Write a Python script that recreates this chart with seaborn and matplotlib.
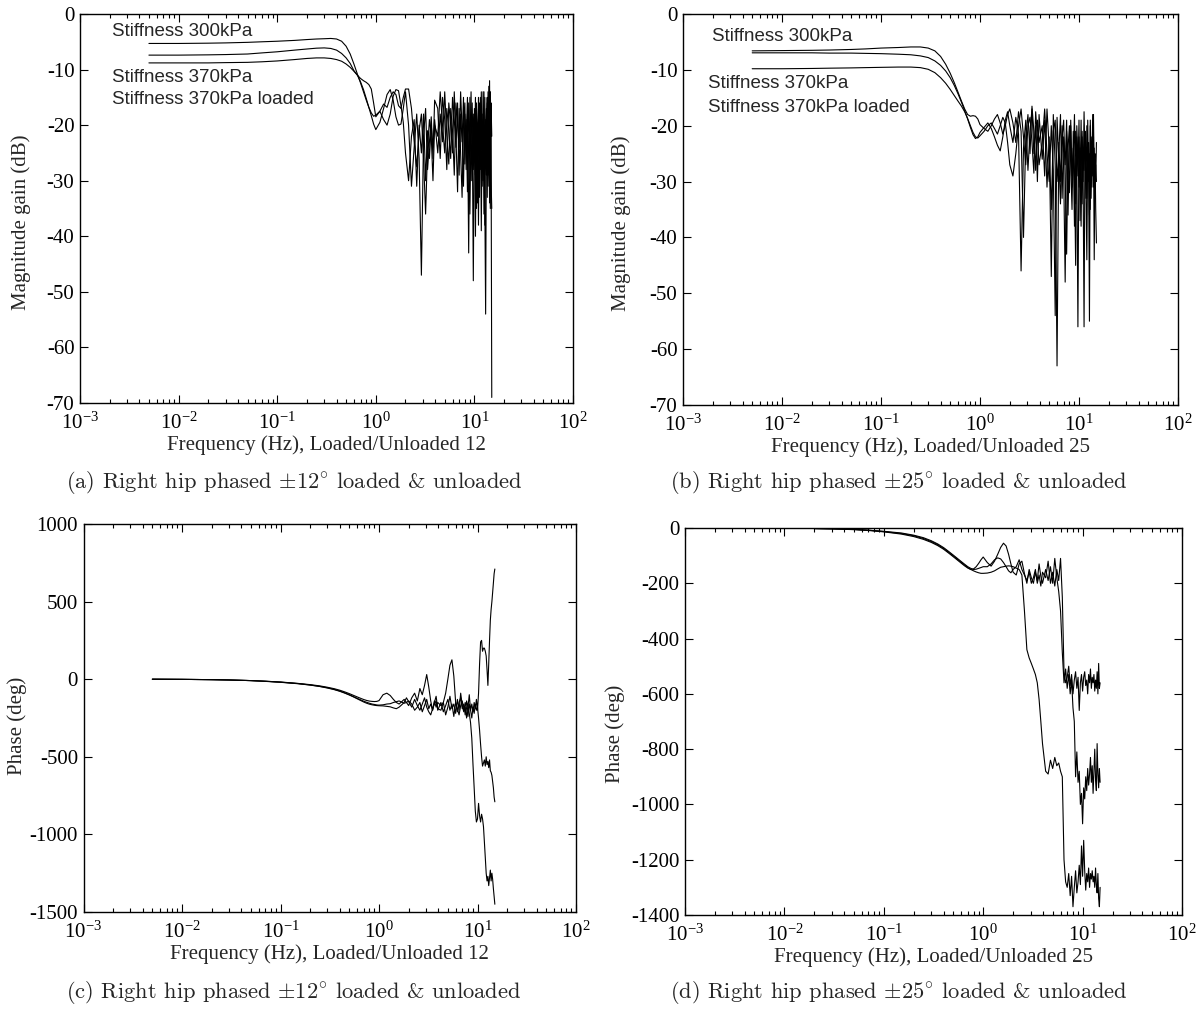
import numpy as np
import pandas as pd
import matplotlib
matplotlib.use("Agg")
import matplotlib.pyplot as plt
import seaborn as sns
from matplotlib.ticker import LogLocator, NullLocator, MultipleLocator

# ---------------- data ----------------
FREQ = ([0.005, 0.01, 0.02, 0.03, 0.05, 0.07, 0.1, 0.15, 0.2, 0.25, 0.3, 0.35, 0.4, 0.45, 0.5,
         0.55, 0.6, 0.65, 0.7, 0.75, 0.8, 0.85, 0.9, 0.95, 1.0]
        + [1.1, 1.2, 1.3, 1.4, 1.5, 1.6, 1.7, 1.8, 1.9, 2.0]
        + [2.15, 2.3, 2.45, 2.6, 2.75, 2.9, 3.05, 3.2, 3.35, 3.5, 3.65, 3.8, 3.95]
        + [4.25, 4.5, 4.75, 5.0, 5.25, 5.5, 5.75, 6.0, 6.25, 6.5, 6.75, 7.0, 7.25, 7.5, 7.75,
           8.0, 8.25, 8.5, 8.75, 9.0, 9.25, 9.5, 9.75, 10.0, 10.25, 10.5, 10.75, 11.0, 11.25,
           11.5, 11.75, 12.0, 12.25, 12.5, 12.75, 13.0, 13.25, 13.5, 13.75, 14.0, 14.25, 14.5,
           14.75, 15.0])

# (a) magnitude, +-12 deg
MAG_A_300 = ([-5.3, -5.3, -5.25, -5.2, -5.1, -5.0, -4.9, -4.75, -4.6, -4.5, -4.45, -4.4, -4.5, -4.9,
              -5.8, -7.2, -9.0, -10.8, -12.4, -14.0, -15.5, -16.8, -17.8, -18.4, -18.2]
             + [-17.5, -16.2, -16.8, -15.0, -14.0, -14.5, -16.5, -17.0, -15.0, -13.5]
             + [-13.5, -17.0, -23.0, -27.5, -21.0, -18.0, -26.0, -36.0, -24.0, -19.0, -22.0, -30.0, -20.0]
             + [-22, -14, -20, -25, -17, -21, -26, -15, -19, -24, -16, -29, -18, -23, -15, -27, -19,
                -32, -16, -24, -14, -30, -18, -26, -15, -35, -20, -38, -16, -28, -14, -31, -19, -36,
                -15, -27, -17, -33, -14, -29, -12, -35, -16, -22])
MAG_A_370 = ([-7.4, -7.4, -7.35, -7.3, -7.2, -7.0, -6.8, -6.5, -6.3, -6.15, -6.1, -6.2, -6.5, -7.1,
              -7.9, -8.9, -10.2, -11.0, -12.2, -13.6, -15.2, -16.8, -18.3, -19.8, -20.8]
             + [-19.5, -17.0, -14.5, -13.6, -15.5, -18.5, -20.0, -19.8, -17.0, -14.0]
             + [-20.0, -31.0, -24.0, -18.0, -26.0, -47.0, -22.0, -17.0, -28.0, -23.0, -18.5, -26.0, -15.5]
             + [-17, -26, -15, -19, -28, -16, -20, -25, -14, -22, -32, -17, -25, -33, -20, -16, -28,
                -18, -43, -15, -30, -19, -48, -17, -29, -16, -34, -19, -27, -15, -39, -18, -30, -14,
                -33, -54, -20, -15, -31, -18, -34, -14, -21, -69])
MAG_A_370L = ([-8.8, -8.8, -8.8, -8.75, -8.7, -8.6, -8.45, -8.2, -8.0, -7.9, -7.9, -8.0, -8.2, -8.5,
               -9.0, -9.6, -10.3, -11.0, -11.6, -12.0, -12.3, -12.7, -13.5, -16.0, -18.5]
              + [-17.5, -19.0, -20.0, -18.0, -14.8, -13.6, -13.8, -16.5, -19.5, -25.0]
              + [-30.0, -22.0, -19.0, -31.0, -20.0, -25.0, -18.0, -30.0, -21.0, -26.0, -20.0, -24.0, -19.0]
              + [-25, -18, -23, -14, -22, -27, -17, -21, -29, -16, -20, -24, -14, -21, -31, -18, -23,
                 -15, -26, -36, -20, -16, -28, -21, -40, -17, -24, -15, -33, -21, -17, -26, -14, -22,
                 -38, -19, -29, -16, -24, -13, -27, -20, -30, -35])

# (b) magnitude, +-25 deg
MAG_B_300 = ([-6.6, -6.55, -6.5, -6.45, -6.35, -6.25, -6.1, -6.0, -5.9, -5.9, -6.1, -6.6, -7.6, -9.0,
              -10.6, -12.3, -14.0, -15.6, -17.0, -18.0, -18.3, -18.2, -18.3, -18.8, -19.8]
             + [-20.5, -21.0, -20.0, -18.8, -18.0, -19.5, -21.5, -20.0, -18.0, -17.0]
             + [-19.5, -23.0, -17.5, -21.0, -40.0, -22.0, -18.0, -25.0, -16.5, -21.0, -28.0, -19.0, -23.0]
             + [-20, -29, -17, -24, -35, -21, -19, -30, -25, -18, -33, -22, -27, -19, -36, -23, -20,
                -31, -26, -18, -34, -22, -29, -19, -37, -24, -21, -30, -17.5, -26, -33, -20, -28, -23,
                -36, -19, -27, -31, -22, -18, -29, -25, -35, -41])
MAG_B_370 = ([-6.95, -6.95, -6.95, -7.0, -7.0, -7.05, -7.1, -7.2, -7.3, -7.5, -7.8, -8.4, -9.2, -10.2,
              -11.4, -12.8, -14.3, -15.8, -17.3, -18.8, -20.3, -21.6, -22.3, -22.0, -21.2]
             + [-20.3, -19.5, -20.5, -22.0, -23.5, -24.5, -22.0, -19.0, -17.5, -20.0]
             + [-23.0, -18.5, -21.5, -46.0, -24.0, -19.0, -28.0, -21.0, -17.0, -25.0, -20.0, -30.0, -18.0]
             + [-26, -19, -31, -22, -47, -18, -27, -63, -23, -30, -20, -28, -48, -21, -25, -32, -19,
                -29, -24, -38, -21, -27, -56, -22, -30, -19, -34, -25, -28, -21, -31, -44, -23, -27,
                -55, -20, -33, -24, -29, -22, -44, -26, -30, -23])
MAG_B_370L = ([-9.8, -9.8, -9.75, -9.7, -9.65, -9.6, -9.55, -9.5, -9.5, -9.6, -9.9, -10.5, -11.4, -12.4,
               -13.5, -14.6, -15.6, -16.5, -17.5, -18.7, -20.0, -21.2, -22.0, -22.2, -21.8]
              + [-21.0, -20.0, -19.5, -20.5, -21.5, -20.0, -18.5, -19.5, -23.0, -27.0]
              + [-29.0, -25.0, -20.0, -17.0, -22.0, -27.0, -20.0, -18.5, -23.0, -28.5, -17.5, -22.0, -27.0]
              + [-23, -17, -25, -30, -20, -28, -54, -18.5, -26, -34, -22, -19, -29, -43, -24, -20, -27,
                 -35, -21, -28, -45, -20, -26, -31, -24, -38, -22, -29, -56, -21, -27, -33, -19, -30,
                 -25, -35, -22, -28, -18, -31, -24, -32, -27, -30])

# (c) phase, +-12 deg
PH_C_300 = ([0, -1, -3, -5, -9, -13, -19, -28, -37, -46, -55, -65, -76, -88, -100, -112, -123, -133,
             -142, -149, -155, -160, -163, -166, -167]
            + [-165, -160, -158, -150, -145, -140, -148, -155, -150, -140]
            + [-160, -200, -180, -150, -210, -170, -130, -190, -160, -200, -140, -180, -150]
            + [-170, -150, -90, 0, 90, 125, 20, -150, -210, -150, -120, -190, -160, -230, -140, -180,
               -100, -200, -160, -210, -150, -190, -130, -200, -90, 100, 240, 250, 180, 200, 200, 180,
               150, 60, -40, 100, 250, 380, 450, 500, 560, 620, 680, 710])
PH_C_370 = ([0, -1, -3, -5, -9, -13, -18, -27, -35, -43, -52, -61, -71, -82, -93, -104, -114, -123,
             -131, -137, -141, -143, -144, -143, -138]
            + [-100, -90, -105, -130, -150, -160, -145, -130, -150, -170]
            + [-120, -90, -140, -60, -100, -40, 30, -50, -140, -200, -150, -110, -190]
            + [-200, -150, -230, -180, -110, -190, -160, -220, -130, -200, -90, -170, -210, -150, -190,
               -240, -160, -200, -250, -180, -220, -160, -200, -180, -250, -330, -420, -500, -560,
               -540, -520, -560, -500, -550, -530, -570, -520, -590, -600, -620, -660, -700, -760, -790])
PH_C_370L = ([0, -1, -3, -5, -9, -14, -20, -29, -38, -47, -57, -67, -78, -90, -102, -114, -126, -137,
              -147, -155, -161, -165, -168, -170, -171]
             + [-172, -175, -178, -185, -190, -180, -165, -150, -120, -145]
             + [-180, -130, -170, -200, -160, -120, -180, -210, -230, -190, -160, -140, -200]
             + [-150, -210, -170, -130, -200, -160, -240, -150, -190, -230, -170, -140, -200, -180,
                -250, -160, -220, -280, -380, -550, -700, -850, -920, -900, -800, -880, -920, -870,
                -900, -950, -1050, -1150, -1250, -1300, -1270, -1330, -1280, -1230, -1300, -1250,
                -1290, -1350, -1400, -1450])

# (d) phase, +-25 deg (no data below 0.02 Hz)
NA = np.nan
PH_D_300 = ([NA, NA, -2, -3, -5, -8, -12, -18, -26, -35, -46, -58, -71, -85, -98, -110, -121, -131,
             -140, -146, -150, -149, -146, -143, -140]
            + [-140, -130, -115, -108, -112, -125, -140, -155, -162, -150]
            + [-140, -115, -150, -170, -190, -160, -200, -180, -150, -200, -170, -210, -160]
            + [-180, -120, -200, -160, -210, -150, -190, -110, -250, -520, -560, -540, -500, -570,
               -530, -600, -550, -520, -580, -540, -660, -560, -530, -590, -540, -520, -570, -550,
               -600, -530, -560, -510, -580, -540, -560, -530, -590, -550, -580, -520, -600, -490,
               -580, -560])
PH_D_370 = ([NA, NA, -2, -3, -5, -8, -13, -20, -28, -38, -49, -61, -74, -88, -101, -113, -124, -134,
             -143, -150, -155, -159, -162, -164, -164]
            + [-163, -160, -155, -148, -142, -140, -138, -137, -138, -140]
            + [-145, -150, -170, -300, -440, -470, -490, -510, -530, -560, -620, -700, -780]
            + [-880, -890, -840, -870, -830, -860, -850, -880, -900, -1200, -1280, -1300, -1250, -1330,
               -1260, -1370, -1300, -1240, -1320, -1280, -1220, -1290, -1150, -1260, -1130, -1240,
               -1310, -1250, -1280, -1230, -1300, -1250, -1270, -1240, -1280, -1260, -1300, -1230,
               -1290, -1320, -1250, -1340, -1370, -1300])
PH_D_370L = ([NA, NA, -2, -3, -6, -9, -14, -22, -31, -41, -52, -64, -77, -91, -104, -116, -127, -137,
              -145, -150, -148, -140, -128, -115, -105]
             + [-125, -138, -120, -95, -70, -55, -65, -95, -130, -160]
             + [-170, -130, -120, -165, -200, -150, -180, -200, -160, -190, -130, -175, -200]
             + [-150, -190, -140, -200, -110, -180, -230, -300, -450, -560, -510, -580, -530, -600,
                -550, -650, -700, -900, -810, -920, -880, -1000, -960, -1070, -940, -980, -900, -950,
                -870, -930, -890, -830, -920, -860, -960, -880, -800, -910, -950, -780, -890, -940,
                -870, -920])

SERIES = ["Stiffness 300kPa", "Stiffness 370kPa", "Stiffness 370kPa loaded"]
XLABEL_A = "Frequency (Hz), Loaded/Unloaded 12"
XLABEL_B = "Frequency (Hz), Loaded/Unloaded 25"
CAPTIONS = [
    r"(a) Right hip phased $\pm12^{\circ}$ loaded & unloaded",
    r"(b) Right hip phased $\pm25^{\circ}$ loaded & unloaded",
    r"(c) Right hip phased $\pm12^{\circ}$ loaded & unloaded",
    r"(d) Right hip phased $\pm25^{\circ}$ loaded & unloaded",
]

# ---------------- style ----------------
sns.set_theme(style="ticks")
plt.rcParams["font.family"] = ["Liberation Serif", "DejaVu Serif"]
plt.rcParams["mathtext.fontset"] = "stix"
plt.rcParams["axes.unicode_minus"] = False
plt.rcParams["axes.linewidth"] = 1.0

W, H = 1201, 1011
fig = plt.figure(figsize=(W / 100, H / 100), dpi=100)


def px_axes(l, t, r, b):
    return fig.add_axes([l / W, 1 - b / H, (r - l) / W, (b - t) / H])


def frame(series_lists):
    rows = []
    for name, vals in zip(SERIES, series_lists):
        rows.append(pd.DataFrame({"freq": FREQ, "value": vals, "series": name}))
    return pd.concat(rows, ignore_index=True).dropna()


def draw(ax, lists, ylim, ystep, xlabel, ylabel, ylab_xy):
    df = frame(lists)
    sns.lineplot(data=df, x="freq", y="value", hue="series", palette=["black"] * 3,
                 estimator=None, sort=False, legend=False, linewidth=0.8, ax=ax)
    ax.set_xscale("log")
    ax.set_xlim(1e-3, 1e2)
    ax.set_ylim(*ylim)
    ax.yaxis.set_major_locator(MultipleLocator(ystep))
    ax.yaxis.set_minor_locator(NullLocator())
    ax.xaxis.set_major_locator(LogLocator(base=10, numticks=10))
    ax.xaxis.set_minor_locator(LogLocator(base=10, subs=np.arange(2, 10), numticks=20))
    ax.tick_params(which="both", direction="in", top=True, right=True, labelsize=15,
                   colors="black", width=0.8)
    ax.tick_params(which="major", length=6)
    ax.tick_params(which="minor", length=3)
    ax.tick_params(axis="y", pad=4)
    ax.tick_params(axis="x", pad=7)
    ax.set_xlabel(xlabel, fontsize=15, labelpad=1)
    ax.set_ylabel(ylabel, fontsize=15)
    ax.yaxis.set_label_coords(*ylab_xy)
    for s in ax.spines.values():
        s.set_color("black")


ax_a = px_axes(80, 14, 573, 403)
ax_b = px_axes(683, 14, 1178, 405)
ax_c = px_axes(83.5, 524, 576, 912)
ax_d = px_axes(685, 528, 1182, 915)

draw(ax_a, [MAG_A_300, MAG_A_370, MAG_A_370L], (-70, 0), 10, XLABEL_A, "Magnitude gain (dB)",
     (-0.099, 0.465))
draw(ax_b, [MAG_B_300, MAG_B_370, MAG_B_370L], (-70, 0), 10, XLABEL_B, "Magnitude gain (dB)",
     (-0.105, 0.465))
draw(ax_c, [PH_C_300, PH_C_370, PH_C_370L], (-1500, 1000), 500, XLABEL_A, "Phase (deg)",
     (-0.115, 0.479))
draw(ax_d, [PH_D_300, PH_D_370, PH_D_370L], (-1400, 0), 200, XLABEL_B, "Phase (deg)",
     (-0.121, 0.468))

# in-plot labels of the three curves
lab_kw = dict(fontsize=13.5, family=["Liberation Sans", "DejaVu Sans"], va="center", ha="left")
for ax, pos in [(ax_a, [(0.065, 0.955), (0.065, 0.838), (0.065, 0.779)]),
                (ax_b, [(0.059, 0.942), (0.051, 0.821), (0.051, 0.762)])]:
    for name, (x, y) in zip(SERIES, pos):
        ax.text(x, y, name, transform=ax.transAxes, **lab_kw)

# sub-figure captions (Computer Modern look)
for (cx, cy), cap in zip([(294, 483), (899, 482), (294, 993), (899, 993)], CAPTIONS):
    fig.text(cx / W, 1 - cy / H, cap, ha="center", va="center", fontsize=16.2,
             family=["cmr10", "DejaVu Serif"], math_fontfamily="cm")

fig.savefig("out.png", dpi=100)
